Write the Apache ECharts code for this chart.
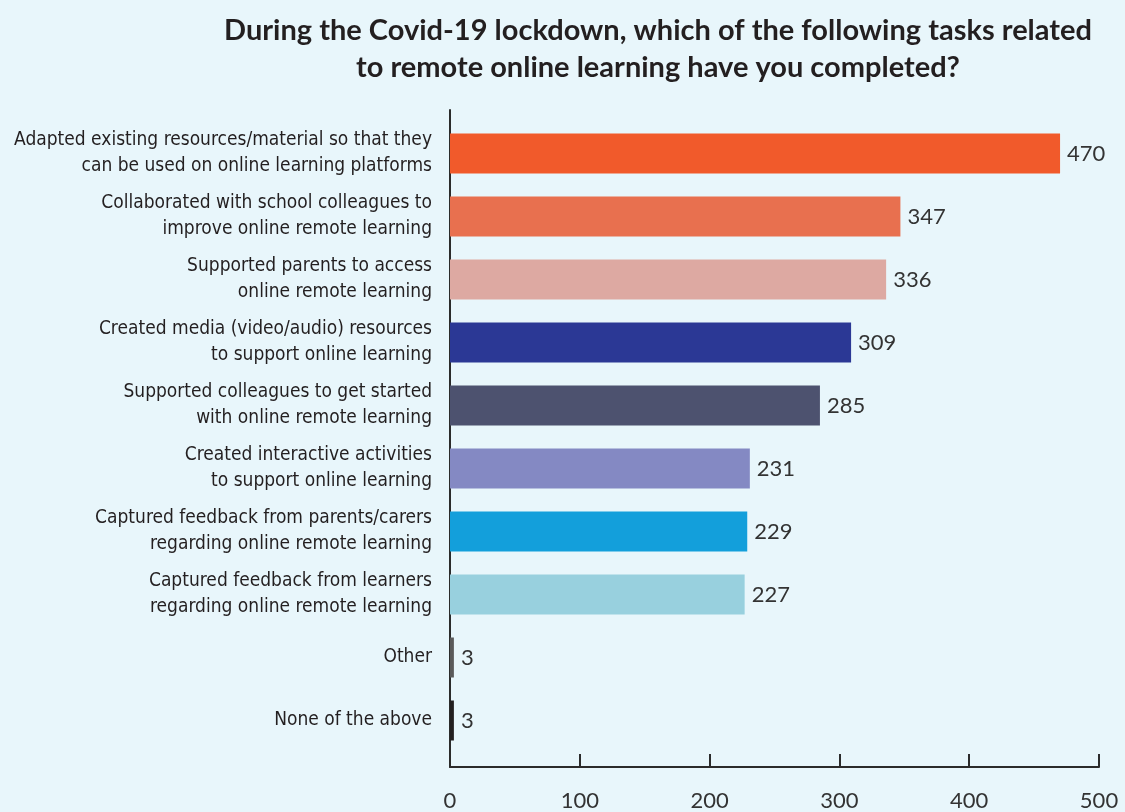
<!DOCTYPE html>
<html>
<head>
<meta charset="utf-8">
<script src="https://cdn.jsdelivr.net/npm/echarts@6/dist/echarts.min.js"></script>
<style>
  html, body { margin: 0; padding: 0; background: #e8f6fb; }
  #chart { width: 1125px; height: 812px; }
</style>
</head>
<body>
<div id="chart"></div>
<script>
// Survey tasks (top to bottom) and number of respondents
const tasks = [
  'Adapted existing resources/material so that they\ncan be used on online learning platforms',
  'Collaborated with school colleagues to\nimprove online remote learning',
  'Supported parents to access\nonline remote learning',
  'Created media (video/audio) resources\nto support online learning',
  'Supported colleagues to get started\nwith online remote learning',
  'Created interactive activities\nto support online learning',
  'Captured feedback from parents/carers\nregarding online remote learning',
  'Captured feedback from learners\nregarding online remote learning',
  'Other',
  'None of the above'
];
const counts = [470, 347, 336, 309, 285, 231, 229, 227, 3, 3];
const barColors = ['#f15a2b', '#e8704f', '#dda9a2', '#2b3895', '#4d526f', '#8489c3', '#139fdb', '#98d0de', '#5a5a5a', '#231f20'];
const xTicks = [0, 100, 200, 300, 400, 500];

const chart = echarts.init(document.getElementById('chart'));
const axisColor = '#2b2b2b';

chart.setOption({
  backgroundColor: '#e8f6fb',
  animation: false,
  title: {
    text: 'During the Covid-19 lockdown, which of the following tasks related\nto remote online learning have you completed?',
    left: 653,
    top: 7,
    textAlign: 'center',
    textStyle: {
      fontFamily: 'Lato',
      fontWeight: 'bold',
      fontSize: 29,
      lineHeight: 37,
      color: '#231f20'
    }
  },
  grid: [
    // bars
    { left: 450, right: 26, top: 122, bottom: 60, containLabel: false, outerBoundsMode: 'none' },
    // frame axes
    { left: 450, right: 26, top: 110, bottom: 45, containLabel: false, outerBoundsMode: 'none' }
  ],
  xAxis: [
    {
      gridIndex: 0, type: 'value', min: 0, max: xTicks[xTicks.length - 1],
      show: false
    },
    {
      gridIndex: 1, type: 'value', min: xTicks[0], max: xTicks[xTicks.length - 1], interval: 100,
      axisLine: { show: true, lineStyle: { color: axisColor, width: 2 } },
      axisTick: { show: true, inside: true, length: 13, lineStyle: { color: axisColor, width: 2 } },
      splitLine: { show: false },
      axisLabel: {
        margin: 23,
        fontFamily: 'Lato',
        fontSize: 22,
        color: '#333333'
      }
    }
  ],
  yAxis: [
    {
      gridIndex: 0, type: 'category', data: tasks, inverse: true,
      axisLine: { show: false },
      axisTick: { show: false },
      axisLabel: {
        margin: 18,
        fontFamily: '"DejaVu Sans Condensed", "Liberation Sans Narrow", Roboto, sans-serif',
        fontSize: 19,
        lineHeight: 26,
        align: 'right',
        color: '#231f20'
      }
    },
    {
      gridIndex: 1, type: 'value', min: 0, max: 1,
      axisLine: { show: true, lineStyle: { color: axisColor, width: 2 } },
      axisTick: { show: false },
      axisLabel: { show: false },
      splitLine: { show: false }
    }
  ],
  series: [{
    type: 'bar',
    xAxisIndex: 0,
    yAxisIndex: 0,
    barWidth: 40,
    data: counts.map((v, i) => ({ value: v, itemStyle: { color: barColors[i] } })),
    label: {
      show: true,
      position: 'right',
      distance: 7,
      fontFamily: 'Lato',
      fontSize: 22,
      color: '#333333'
    }
  }]
});
</script>
</body>
</html>
